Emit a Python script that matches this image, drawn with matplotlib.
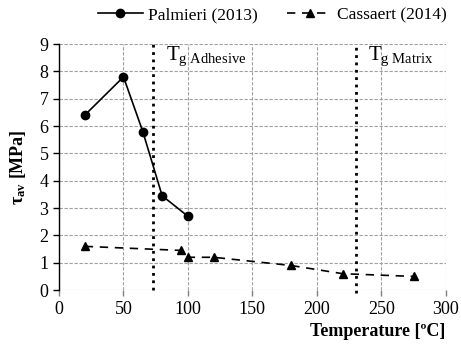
import matplotlib.pyplot as plt

# data
palmieri_t = [20, 50, 65, 80, 100]
palmieri_tau = [6.4, 7.8, 5.8, 3.45, 2.7]
cassaert_t = [20, 95, 100, 120, 180, 220, 275]
cassaert_tau = [1.6, 1.45, 1.2, 1.2, 0.9, 0.6, 0.5]
tg_adhesive = 73
tg_matrix = 230

plt.rcParams['font.family'] = ['Liberation Serif', 'DejaVu Serif']
plt.rcParams['mathtext.fontset'] = 'custom'
plt.rcParams['mathtext.rm'] = 'Liberation Serif'
plt.rcParams['mathtext.it'] = 'Liberation Serif:italic'
plt.rcParams['mathtext.bf'] = 'Liberation Serif:bold'

fig = plt.figure(figsize=(4.61, 3.47), dpi=100)
ax = fig.add_axes([0.128, 0.164, 0.839, 0.709])

ax.plot(palmieri_t, palmieri_tau, 'k-o', lw=1.2, ms=6, label='Palmieri (2013)')
ax.plot(cassaert_t, cassaert_tau, 'k--^', lw=1.2, ms=6, dashes=(5, 4),
        label='Cassaert (2014)')

# glass transition markers
ax.plot([tg_adhesive, tg_adhesive], [0, 9], color='k', ls=':', lw=2, clip_on=False)
ax.plot([tg_matrix, tg_matrix], [-0.1, 9], color='k', ls=':', lw=2, clip_on=False)
ax.text(tg_adhesive + 10, 8.55, r'T$_{\mathrm{g\ Adhesive}}$', fontsize=15, va='center')
ax.text(tg_matrix + 10, 8.55, r'T$_{\mathrm{g\ Matrix}}$', fontsize=15, va='center')

ax.set_xlim(0, 300)
ax.set_ylim(0, 9)
ax.set_xticks(range(0, 301, 50))
ax.set_yticks(range(0, 10))
ax.grid(True, color='#a0a0a0', ls='--', lw=0.8, dashes=(3, 1.5))
ax.set_axisbelow(True)
for s in ['top', 'right', 'bottom']:
    ax.spines[s].set_visible(False)
ax.spines['left'].set_linewidth(1.0)
ax.tick_params(axis='both', labelsize=13, length=4, width=1)
ax.tick_params(axis='x', color='#808080')

ax.set_ylabel(r'$\mathbf{\tau_{av}}$ [MPa]', fontsize=13, fontweight='bold', labelpad=8)
ax.set_xlabel('Temperature [ºC]', fontsize=13, fontweight='bold', loc='right')

fig.legend(loc='upper right', bbox_to_anchor=(1.004, 1.025), ncol=2, frameon=False,
           fontsize=12.5, handlelength=2.6, handletextpad=0.3, columnspacing=1.7)

fig.savefig('out.png', dpi=100)
